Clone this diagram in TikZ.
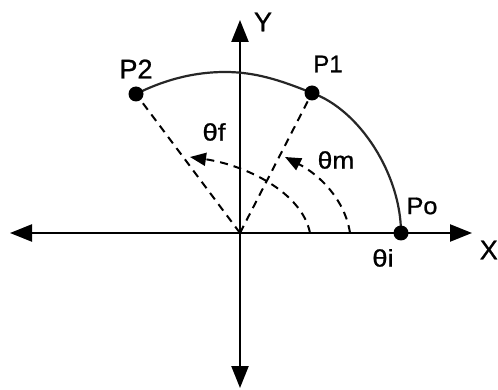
\documentclass[tikz,border=0pt]{standalone}
\usepackage{fontspec}
\setmainfont{Liberation Sans}
\newfontfamily\heavy[FakeBold=0.8]{Liberation Sans}
\usetikzlibrary{arrows.meta}
\newcommand{\wide}[2]{\scalebox{#1}[1]{#2}}
\begin{document}
\begin{tikzpicture}[x=1pt,y=-1pt,
  axis/.style={line width=2.4pt,-{Triangle[length=22pt,width=17pt]}},
  dashline/.style={line width=2pt,dash pattern=on 8pt off 6pt},
  dasharrow/.style={dashline,-{Triangle[length=16pt,width=13pt]}},
  dot/.style={circle,fill=black,inner sep=0pt,minimum size=15pt},
  lbl/.style={font=\heavy\fontsize{24}{26}\selectfont,inner sep=0pt},
  biglbl/.style={font=\heavy\fontsize{27}{29}\selectfont,inner sep=0pt}]
\useasboundingbox[fill=white] (0,0) rectangle (498,390);
\coordinate (O) at (240,233);
\coordinate (xl) at (10,233);
\coordinate (xr) at (472,233);
\coordinate (yt) at (240,20);
\coordinate (yb) at (240,388);
\draw[axis] (O) -- (xl);
\draw[axis] (O) -- (xr);
\draw[axis] (O) -- (yt);
\draw[axis] (O) -- (yb);
% arc
\coordinate (po) at (401,233);
\coordinate (top) at (225,72);
\draw[line width=2.2pt,black!85] (po) .. controls (401,175) and (360,110) .. (312,93)
  .. controls (280,80) and (255,72) .. (top)
  .. controls (190,72) and (160,82) .. (136,94);
\node[dot] (p0) at (401,233) {};
\node[dot] (p1) at (312,93) {};
\node[dot] (p2) at (136,94) {};
\draw[dashline] (O) -- (p1);
\draw[dashline] (O) -- (p2);
\draw[dasharrow] (310,233) .. controls (302,192) and (245,165) .. (190,157);
\draw[dasharrow] (350,233) .. controls (345,200) and (320,175) .. (285,157);
\node[biglbl] (lp2) at (136,69) {P2};
\node[lbl] (lp1) at (328,64) {P1};
\node[lbl] (lpo) at (422,206) {\wide{1.05}{Po}};
\node[lbl] (lti) at (383,258) {\wide{1.15}{θi}};
\node[lbl] (ltf) at (214,132) {\wide{1.15}{θf}};
\node[lbl] (ltm) at (336,160) {\wide{1.1}{θm}};
\node[biglbl] (ly) at (263,22) {Y};
\node[biglbl,anchor=east] (lx) at (498,250) {X};
\end{tikzpicture}
\end{document}
